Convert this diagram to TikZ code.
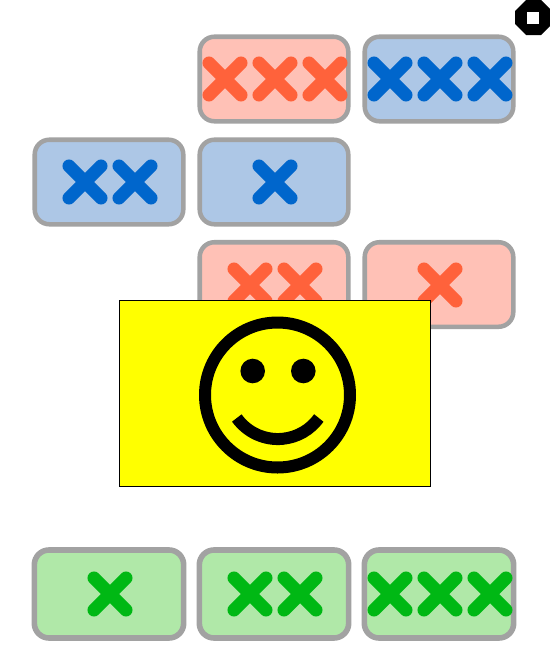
\documentclass[tikz,border=0pt]{standalone}
\definecolor{redfill}{RGB}{255,193,182}
\definecolor{redmark}{RGB}{255,98,59}
\definecolor{bluefill}{RGB}{173,199,230}
\definecolor{bluemark}{RGB}{0,102,204}
\definecolor{greenfill}{RGB}{176,232,168}
\definecolor{greenmark}{RGB}{0,184,20}
\definecolor{edgegray}{RGB}{162,162,162}
\definecolor{panelyellow}{RGB}{255,255,0}
\tikzset{
  card/.style={draw=edgegray, line width=3.4pt, rounded corners=11pt, inner sep=0pt, minimum width=111.4pt, minimum height=63.4pt},
  bigcard/.style={card, line width=4.2pt, minimum width=112pt, minimum height=66pt},
  redcard/.style={card, fill=redfill},
  bluecard/.style={card, fill=bluefill},
  greencard/.style={bigcard, fill=greenfill},
  mark stroke/.style={line width=9.8pt, line cap=round},
  smile/.style={line width=9pt, draw=black},
}
% place a cross centred at (x,y) in reference pixels (y downward)
\newcommand{\crossmark}[3]{\draw[mark stroke, #3] (#1-16,-#2+16) -- (#1+16,-#2-16) (#1-16,-#2-16) -- (#1+16,-#2+16);}
\begin{document}
\begin{tikzpicture}[x=0.75pt,y=0.75pt]
\useasboundingbox (0,0) rectangle (550,-650);
% cards
\node[redcard]  (c1) at (274,-79)  {};
\node[bluecard] (c2) at (439,-79)  {};
\node[bluecard] (c3) at (109,-182) {};
\node[bluecard] (c4) at (274,-182) {};
\node[redcard]  (c5) at (274,-284.5) {};
\node[redcard]  (c6) at (439,-284.5) {};
\node[greencard] (c7) at (109,-594) {};
\node[greencard] (c8) at (274,-594) {};
\node[greencard] (c9) at (439,-594) {};
% crosses
\foreach \x in {225,275,325} {\crossmark{\x}{79}{redmark}}
\foreach \x in {390,440,490} {\crossmark{\x}{79}{bluemark}}
\foreach \x in {85,135} {\crossmark{\x}{182}{bluemark}}
\crossmark{275}{182}{bluemark}
\foreach \x in {250,300} {\crossmark{\x}{285}{redmark}}
\crossmark{440}{285}{redmark}
\crossmark{110}{594}{greenmark}
\foreach \x in {250,300} {\crossmark{\x}{594}{greenmark}}
\foreach \x in {390,440,490} {\crossmark{\x}{594}{greenmark}}
% yellow panel
\draw[black, fill=panelyellow, line width=0.75pt] (119.5,-300.5) rectangle (430.5,-486.5);
% smiley
\draw[smile] (277.5,-395) circle [radius=72.5];
\fill[black] (252.7,-371) circle [radius=12.3];
\fill[black] (303.3,-371) circle [radius=12.3];
\draw[smile] (236.8,-418) arc [start angle=215.7, end angle=324.3, radius=50.5];
% octagon badge
\fill[black] (526,0) -- (541,0) -- (552,-11) -- (552,-24) -- (541,-35) -- (526,-35) -- (515,-24) -- (515,-11) -- cycle;
\fill[white] (527,-12) rectangle (539,-24);
\end{tikzpicture}
\end{document}
